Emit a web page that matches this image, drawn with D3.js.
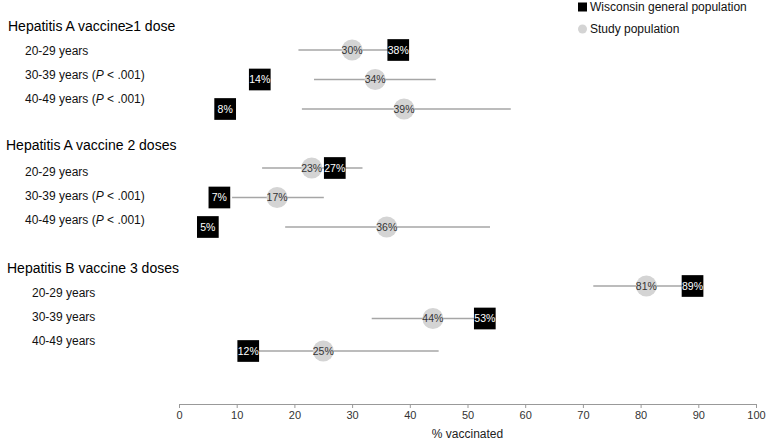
<!DOCTYPE html>
<html><head><meta charset="utf-8">
<script src="https://cdn.jsdelivr.net/npm/d3@7"></script>
<style>
html,body{margin:0;padding:0;background:#fff;}
text{font-family:"Liberation Sans",Arial,sans-serif;}
</style></head>
<body><svg id="c" width="768" height="442"></svg>
<script>
// ---- data ----
const groups = ["Hepatitis A vaccine\u22651 dose", "Hepatitis A vaccine 2 doses", "Hepatitis B vaccine 3 doses"];
const ageLabels = ["20-29 years", "30-39 years", "40-49 years", "20-29 years", "30-39 years", "40-49 years", "20-29 years", "30-39 years", "40-49 years"];
const pValues = ["", "< .001", "< .001", "", "< .001", "< .001", "", "", ""];
const rowGroup = [0,0,0,1,1,1,2,2,2];
const rowSlot = [0,1,2,4,5,6,8,9,10];
const study = [30, 34, 39, 23, 17, 36, 81, 44, 25];
const wisconsin = [38, 14, 8, 27, 7, 5, 89, 53, 12];
const ciLow = [20.7, 23.4, 21.3, 14.4, 9.2, 18.4, 71.8, 33.4, 13];
const ciHigh = [39, 44.5, 57.5, 31.8, 25.1, 53.9, 88, 54, 45];
const xTicks = [0,10,20,30,40,50,60,70,80,90,100];
const legendLabels = ["Wisconsin general population", "Study population"];
const headerSlot = [0, 4.9, 10];
const labelSlot = [1,2,3,6,7,8,11,12,13];

// ---- scales ----
const svg = d3.select("#c");
const x = d3.scaleLinear().domain([0,100]).range([179,756]);
const y = d3.scaleLinear().domain([0,6,8,10]).range([50,227,286,351]);
const ly = d3.scaleLinear().domain([0,13]).range([26.5,340.7]);
const headerX = [8, 6, 7];
const labelX = [25, 25, 32];

// headers
svg.append("g").selectAll("text").data(groups).join("text")
  .attr("x",(d,i)=>headerX[i]).attr("y",(d,i)=>ly(headerSlot[i]))
  .attr("dy","0.35em").attr("font-size",14).attr("fill","#000").text(d=>d);

// row labels
const rl = svg.append("g").selectAll("text").data(ageLabels).join("text")
  .attr("x",(d,i)=>labelX[rowGroup[i]]).attr("y",(d,i)=>ly(labelSlot[i]))
  .attr("dy","0.35em").attr("font-size",12).attr("fill","#111");
rl.each(function(d,i){
  const t = d3.select(this);
  t.append("tspan").text(d);
  if(pValues[i]){
    t.append("tspan").text(" (");
    t.append("tspan").attr("font-style","italic").text("P");
    t.append("tspan").text(" " + pValues[i] + ")");
  }
});

const idx = d3.range(study.length);
// CI lines
svg.append("g").selectAll("line").data(idx).join("line")
  .attr("x1",i=>x(ciLow[i])).attr("x2",i=>x(ciHigh[i]))
  .attr("y1",i=>y(rowSlot[i])).attr("y2",i=>y(rowSlot[i]))
  .attr("stroke","#a6a6a6").attr("stroke-width",1.3);

// study circles
svg.append("g").selectAll("circle").data(idx).join("circle")
  .attr("cx",i=>x(study[i])).attr("cy",i=>y(rowSlot[i])).attr("r",10.5)
  .attr("fill","#d4d4d4");
svg.append("g").selectAll("text").data(idx).join("text")
  .attr("x",i=>x(study[i])).attr("y",i=>y(rowSlot[i])).attr("dy","0.36em")
  .attr("text-anchor","middle").attr("font-size",10.5).attr("fill","#333")
  .text(i=>study[i]+"%");

// wisconsin squares
const sq = 21.7;
svg.append("g").selectAll("rect").data(idx).join("rect")
  .attr("x",i=>x(wisconsin[i])-sq/2).attr("y",i=>y(rowSlot[i])-sq/2)
  .attr("width",sq).attr("height",sq).attr("fill","#000");
svg.append("g").selectAll("text").data(idx).join("text")
  .attr("x",i=>x(wisconsin[i])).attr("y",i=>y(rowSlot[i])).attr("dy","0.36em")
  .attr("text-anchor","middle").attr("font-size",10.5).attr("fill","#fff")
  .text(i=>wisconsin[i]+"%");

// axis
const ax = svg.append("g").attr("transform","translate(0,404)")
  .call(d3.axisBottom(x).tickValues(xTicks).tickSize(4).tickSizeOuter(0).tickPadding(3));
ax.select(".domain").attr("stroke","#999");
ax.selectAll(".tick line").attr("stroke","#999");
ax.selectAll(".tick text").attr("font-size",11).attr("fill","#333")
  .attr("font-family","'Liberation Sans',Arial,sans-serif");
svg.append("text").attr("x",x(50)).attr("y",434).attr("dy","0.35em")
  .attr("text-anchor","middle").attr("font-size",12).attr("fill","#222").text("% vaccinated");

// legend
const lg = svg.append("g");
lg.append("rect").attr("x",578).attr("y",2.5).attr("width",9).attr("height",9).attr("fill","#000");
lg.append("circle").attr("cx",582.5).attr("cy",29).attr("r",4.5).attr("fill","#d4d4d4");
lg.selectAll("text").data(legendLabels).join("text")
  .attr("x",590).attr("y",(d,i)=>7+i*22).attr("dy","0.35em")
  .attr("font-size",12).attr("fill","#111").text(d=>d);
</script></body></html>
